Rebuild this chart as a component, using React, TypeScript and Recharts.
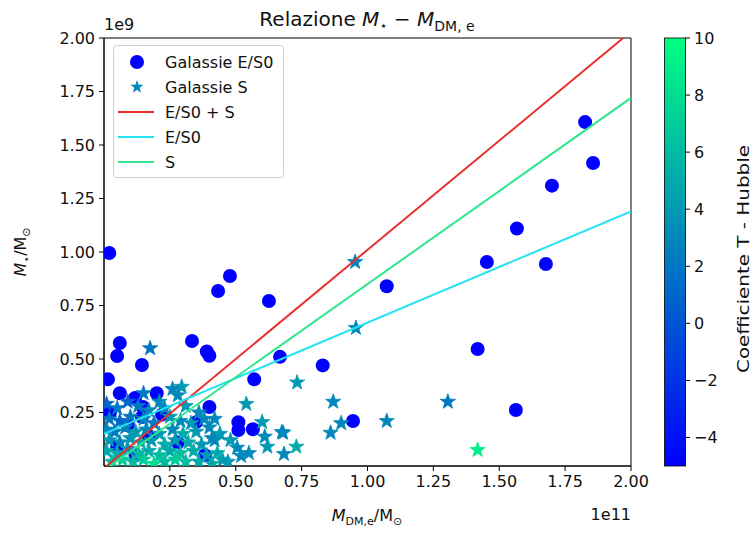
import React from 'react';
import { ScatterChart, Scatter, XAxis, YAxis, ReferenceArea } from 'recharts';

// E/S0 galaxies (x in 1e11 Msun, y in 1e9 Msun)
const eX = [0.02, 0.478, 0.433, 0.626, 0.334, 0.39, 0.40, 0.06, 0.05, 0.144, 0.015, 0.57, 0.668, 0.83, 1.073, 0.945,
  1.418, 1.453, 1.567, 1.677, 1.70, 1.826, 1.856, 1.563, 0.40, 0.35, 0.51, 0.51, 0.565, 0.383, 0.06, 0.118, 0.20,
  0.148, 0.023, 0.144, 0.09, 0.17, 0.28, 0.05, 0.12, 0.22];
const eY = [0.995, 0.888, 0.818, 0.771, 0.584, 0.535, 0.515, 0.575, 0.514, 0.472, 0.405, 0.405, 0.51, 0.47, 0.84, 0.21,
  0.547, 0.953, 1.11, 0.944, 1.31, 1.607, 1.416, 0.262, 0.276, 0.205, 0.205, 0.168, 0.172, 0.05, 0.34, 0.318, 0.34,
  0.276, 0.25, 0.229, 0.19, 0.14, 0.11, 0.09, 0.05, 0.24];
const eT = eX.map(() => -5);

// S galaxies with Hubble T type
const sX = [0.953, 0.956, 0.733, 0.87, 1.305, 0.68, 0.86, 0.90, 1.073, 0.73, 0.683, 1.418, 0.175, 0.54, 0.42, 0.60,
  0.675, 0.41, 0.61, 0.505, 0.62, 0.52, 0.45, 0.295, 0.28, 0.26, 0.15, 0.21, 0.48, 0.55,
  0.01, 0.05, 0.09, 0.13, 0.17, 0.23, 0.31, 0.36,
  0.02, 0.06, 0.10, 0.15, 0.19, 0.25, 0.29, 0.33, 0.38,
  0.01, 0.04, 0.08, 0.12, 0.16, 0.21, 0.26, 0.30, 0.35, 0.40, 0.44,
  0.02, 0.06, 0.10, 0.14, 0.18, 0.23, 0.27, 0.32, 0.37, 0.42,
  0.01, 0.05, 0.09, 0.13, 0.17, 0.21, 0.25, 0.29, 0.34, 0.39, 0.43,
  0.03, 0.07, 0.11, 0.15, 0.19, 0.23, 0.27, 0.31, 0.36, 0.41, 0.47];
const sY = [0.953, 0.645, 0.39, 0.30, 0.30, 0.155, 0.155, 0.20, 0.21, 0.09, 0.056, 0.075, 0.55, 0.29, 0.22, 0.205,
  0.158, 0.13, 0.137, 0.085, 0.09, 0.047, 0.028, 0.37, 0.33, 0.36, 0.34, 0.30, 0.12, 0.06,
  0.29, 0.27, 0.30, 0.28, 0.26, 0.27, 0.28, 0.25,
  0.22, 0.21, 0.23, 0.22, 0.20, 0.23, 0.21, 0.20, 0.22,
  0.17, 0.16, 0.18, 0.16, 0.17, 0.15, 0.17, 0.15, 0.16, 0.18, 0.15,
  0.12, 0.11, 0.13, 0.11, 0.12, 0.10, 0.12, 0.11, 0.10, 0.12,
  0.07, 0.06, 0.08, 0.06, 0.07, 0.05, 0.07, 0.06, 0.07, 0.05, 0.06,
  0.02, 0.03, 0.02, 0.03, 0.01, 0.02, 0.03, 0.02, 0.02, 0.01, 0.02];
const sT = [3, 3, 4, 3, 2, 3, 3, 3, 3, 5, 3, 9, 2, 4, 3, 4,
  3, 3, 3, 3, 4, 3, 4, 4, 3, 3, 2, 3, 4, 3,
  1, 2, 1, 2, 3, 3, 4, 3,
  2, 1, 2, 3, 2, 4, 3, 4, 3,
  3, 2, 3, 4, 3, 4, 3, 5, 4, 3, 4,
  4, 3, 4, 5, 4, 5, 4, 5, 4, 3,
  5, 5, 4, 6, 5, 6, 5, 6, 5, 4, 5,
  6, 7, 6, 7, 8, 6, 7, 6, 5, 5, 4];

// linear fits y = a x + b
const fitNames = ['E/S0 + S', 'E/S0', 'S'];
const fitSlope = [1.02, 0.52, 0.87];
const fitIntercept = [-0.01, 0.15, -0.02];
const fitColors = ['#e8312c', '#25e3f0', '#2fe58e'];

const xTicks = [0.25, 0.5, 0.75, 1.0, 1.25, 1.5, 1.75, 2.0];
const yTicks = [0.25, 0.5, 0.75, 1.0, 1.25, 1.5, 1.75, 2.0];
const cbTicks = [-4, -2, 0, 2, 4, 6, 8, 10];
const cbMin = -5;
const cbMax = 10;

const FONT = 'DejaVu Sans';

// matplotlib "winter" colormap
const winter = (t: number) => {
  const f = Math.max(0, Math.min(1, (t - cbMin) / (cbMax - cbMin)));
  return `rgb(0,${Math.round(255 * f)},${Math.round(255 * (1 - 0.5 * f))})`;
};

const ellData = eX.map((x, i) => ({ x, y: eY[i], t: eT[i] }));
const spData = sX.map((x, i) => ({ x, y: sY[i], t: sT[i] }));

const clipFit = (a: number, b: number) => {
  let x0 = 0;
  let x1 = 2;
  if (a * x0 + b < 0) x0 = -b / a;
  if (a * x1 + b > 2) x1 = (2 - b) / a;
  return [{ x: x0, y: a * x0 + b }, { x: x1, y: a * x1 + b }];
};

const starPoints = (cx: number, cy: number, r: number) => {
  const pts: string[] = [];
  for (let i = 0; i < 10; i++) {
    const ang = (-90 + i * 36) * Math.PI / 180;
    const rr = i % 2 === 0 ? r : r * 0.4;
    pts.push(`${cx + rr * Math.cos(ang)},${cy + rr * Math.sin(ang)}`);
  }
  return pts.join(' ');
};

const CircleShape = (props: any) => (
  <circle cx={props.cx} cy={props.cy} r={7} fill={winter(props.payload.t)} />
);

const StarShape = (props: any) => {
  const c = winter(props.payload.t);
  return <polygon points={starPoints(props.cx, props.cy, 8)} fill={c} stroke={c} strokeWidth={0.8} />;
};

const NoShape = () => <g />;

const Overlay = () => {
  const top = 38;
  const bottom = 466;
  const cbY = (v: number) => bottom - ((v - cbMin) / (cbMax - cbMin)) * (bottom - top);
  const rows = [62, 87, 112, 137, 162];
  return (
    <svg width={753} height={534} style={{ position: 'absolute', left: 0, top: 0, pointerEvents: 'none' }}
      fontFamily={FONT}>
      <defs>
        <linearGradient id="cb" x1="0" y1="1" x2="0" y2="0">
          <stop offset="0" stopColor={winter(cbMin)} />
          <stop offset="1" stopColor={winter(cbMax)} />
        </linearGradient>
      </defs>
      {/* title */}
      <text x={367} y={26} textAnchor="middle" fontSize={20} fill="#111">
        Relazione <tspan fontStyle="italic">M</tspan>
        <tspan fontSize={13} dy={4}>⋆</tspan>
        <tspan dy={-4}> − </tspan>
        <tspan fontStyle="italic">M</tspan>
        <tspan fontSize={14} dy={5}>DM, e</tspan>
      </text>
      {/* offset texts */}
      <text x={104} y={30} fontSize={16} fill="#111">1e9</text>
      <text x={631} y={520} textAnchor="end" fontSize={16} fill="#111">1e11</text>
      {/* axis labels */}
      <text x={367} y={521} textAnchor="middle" fontSize={16} fill="#111">
        <tspan fontStyle="italic">M</tspan>
        <tspan fontSize={11} dy={4}>DM,e</tspan>
        <tspan dy={-4}>/M</tspan>
        <tspan fontSize={11} dy={4}>⊙</tspan>
      </text>
      <text transform="translate(26,252) rotate(-90)" textAnchor="middle" fontSize={16} fill="#111">
        <tspan fontStyle="italic">M</tspan>
        <tspan fontSize={11} dy={4}>⋆</tspan>
        <tspan dy={-4}>/M</tspan>
        <tspan fontSize={11} dy={4}>⊙</tspan>
      </text>
      {/* legend */}
      <rect x={113.5} y={45.5} width={170} height={132} rx={3} fill="#fff" fillOpacity={0.8} stroke="#d0d0d0" />
      <circle cx={137} cy={rows[0]} r={7} fill={winter(-5)} />
      <polygon points={starPoints(137, rows[1], 7)} fill={winter(sT[0])} />
      {fitColors.map((c, i) => (
        <line key={c} x1={118} x2={154} y1={rows[i + 2]} y2={rows[i + 2]} stroke={c} strokeWidth={2} />
      ))}
      {['Galassie E/S0', 'Galassie S', ...fitNames].map((s, i) => (
        <text key={s} x={165} y={rows[i] + 6} fontSize={16} fill="#111">{s}</text>
      ))}
      {/* colorbar */}
      <rect x={664.5} y={top} width={21} height={bottom - top} fill="url(#cb)" stroke="#000" strokeWidth={0.8} />
      {cbTicks.map((v) => (
        <g key={v}>
          <line x1={685} x2={690} y1={cbY(v)} y2={cbY(v)} stroke="#000" />
          <text x={694} y={cbY(v) + 6} fontSize={16} fill="#111">{v < 0 ? `−${-v}` : v}</text>
        </g>
      ))}
      <text transform="translate(749,259) rotate(-90)" textAnchor="middle" fontSize={16} fill="#111"
        textLength={228} lengthAdjust="spacingAndGlyphs">Coefficiente T - Hubble</text>
    </svg>
  );
};

export default function App() {
  const tickStyle = { fill: '#111', fontSize: 16, fontFamily: FONT };
  return (
    <div style={{ position: 'absolute', left: 0, top: 0, width: 753, height: 534, background: '#fff' }}>
      <ScatterChart width={753} height={534} margin={{ top: 38, right: 122, bottom: 0, left: 0 }}>
        <XAxis type="number" dataKey="x" domain={[0, 2]} ticks={xTicks} allowDataOverflow height={68}
          tickFormatter={(v: number) => v.toFixed(2)} tick={tickStyle} tickSize={5} tickMargin={5}
          stroke="#000" interval={0} />
        <YAxis type="number" dataKey="y" domain={[0, 2]} ticks={yTicks} allowDataOverflow width={104}
          tickFormatter={(v: number) => v.toFixed(2)} tick={tickStyle} tickSize={5} tickMargin={4}
          stroke="#000" interval={0} />
        <Scatter data={ellData} shape={CircleShape} isAnimationActive={false} />
        <Scatter data={spData} shape={StarShape} isAnimationActive={false} />
        {fitSlope.map((a, i) => (
          <Scatter key={fitNames[i]} data={clipFit(a, fitIntercept[i])} shape={NoShape}
            line={{ stroke: fitColors[i], strokeWidth: 2 }} isAnimationActive={false} />
        ))}
        <ReferenceArea x1={0} x2={2} y1={0} y2={2} fill="none" stroke="#000" strokeWidth={1} fillOpacity={0} />
      </ScatterChart>
      <Overlay />
    </div>
  );
}
